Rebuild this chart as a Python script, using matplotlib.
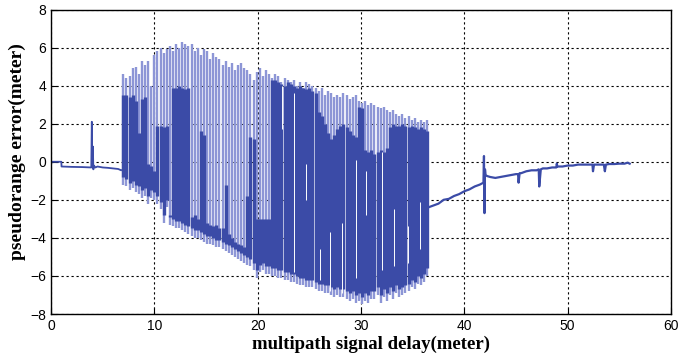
import numpy as np
import matplotlib
matplotlib.use('Agg')
import matplotlib.pyplot as plt

# flat part before the multipath zone (x, y)
pre = [(0.0, -0.15), (0.05, 0.0), (1.0, 0.0), (1.02, -0.25), (2.0, -0.27), (3.0, -0.28),
       (3.9, -0.3), (3.95, 2.1), (4.0, -0.2), (4.05, 0.8), (4.1, -0.4), (4.15, -0.2),
       (4.3, -0.3), (4.5, -0.25), (5.0, -0.3), (5.5, -0.32), (6.0, -0.35), (6.5, -0.38),
       (6.8, -0.45), (7.0, -0.4)]

# oscillating zone: stroke position, top, bottom, top of the dense (dark) part
stroke_x = [7.0, 7.3, 7.6, 7.9, 8.2, 8.5, 8.8, 9.1, 9.4, 9.7,
            10.0, 10.3, 10.6, 10.9, 11.2, 11.5, 11.8, 12.1, 12.4, 12.7,
            13.0, 13.3, 13.6, 13.9, 14.2, 14.5, 14.8, 15.1, 15.4, 15.7,
            16.0, 16.3, 16.6, 16.9, 17.2, 17.5, 17.8, 18.1, 18.4, 18.7,
            19.0, 19.3, 19.6, 19.9, 20.2, 20.5, 20.8, 21.1, 21.4, 21.7,
            22.0, 22.3, 22.6, 22.9, 23.2, 23.5, 23.8, 24.1, 24.4, 24.7,
            25.0, 25.3, 25.6, 25.9, 26.2, 26.5, 26.8, 27.1, 27.4, 27.7,
            28.0, 28.3, 28.6, 28.9, 29.2, 29.5, 29.8, 30.1, 30.4, 30.7,
            31.0, 31.3, 31.6, 31.9, 32.2, 32.5, 32.8, 33.1, 33.4, 33.7,
            34.0, 34.3, 34.6, 34.9, 35.2, 35.5, 35.8, 36.1, 36.4]
stroke_top = [4.6, 4.4, 4.5, 4.9, 5.0, 4.6, 5.3, 5.1, 5.3, 4.0,
              5.6, 5.8, 6.0, 5.7, 5.9, 6.1, 5.8, 6.2, 6.0, 6.3,
              6.2, 6.1, 6.2, 5.8, 6.0, 5.6, 5.9, 5.8, 5.4, 5.7,
              5.5, 5.4, 5.1, 5.3, 5.0, 5.2, 4.8, 5.1, 5.2, 4.9,
              4.8, 4.6, 4.3, 4.7, 4.9, 4.5, 4.8, 4.6, 4.4, 4.6,
              4.5, 4.2, 4.4, 4.3, 4.2, 4.3, 4.0, 4.2, 3.9, 4.2,
              4.1, 4.0, 3.9, 3.7, 3.9, 3.5, 3.7, 3.6, 3.4, 3.5,
              3.4, 3.6, 3.5, 3.3, 3.4, 3.5, 3.2, 3.1, 3.2, 3.0,
              3.1, 3.0, 2.9, 2.8, 2.9, 2.7, 2.6, 2.7, 2.5, 2.4,
              2.5, 2.3, 2.4, 2.2, 2.3, 2.1, 2.2, 2.1, 2.2]
stroke_bottom = [-1.2, -1.3, -1.5, -1.4, -1.6, -1.7, -1.9, -1.8, -2.2, -1.9,
                 -2.0, -2.2, -2.5, -3.2, -2.4, -3.3, -3.4, -3.5, -3.5, -3.6,
                 -3.7, -3.8, -3.9, -4.0, -4.0, -4.1, -4.2, -4.3, -4.3, -4.4,
                 -4.5, -4.5, -4.6, -4.7, -4.8, -4.9, -5.0, -5.1, -5.2, -5.3,
                 -5.4, -5.5, -5.7, -6.1, -5.8, -5.7, -5.9, -5.9, -6.0, -6.0,
                 -6.1, -6.1, -6.2, -6.2, -6.3, -6.3, -6.4, -6.5, -6.5, -6.6,
                 -6.6, -6.6, -6.7, -6.8, -6.8, -6.9, -6.9, -7.0, -7.1, -7.0,
                 -7.1, -7.1, -7.2, -7.3, -7.2, -7.4, -7.3, -7.5, -7.3, -7.4,
                 -7.2, -7.2, -7.0, -7.4, -7.1, -7.3, -7.0, -7.2, -6.9, -7.1,
                 -7.0, -6.9, -6.8, -6.6, -6.7, -6.4, -6.5, -6.3, -6.0]
dark_top = [3.5, 3.5, 3.4, 3.5, 3.2, 1.5, 3.3, 3.4, -0.1, -0.2,
            -0.5, 1.9, 1.9, 1.8, 1.9, -2.8, 3.9, 3.9, 4.0, 3.9,
            3.8, 3.9, -2.9, -2.8, -3.0, 1.6, 1.4, -3.2, -3.3, -3.4,
            -3.3, -3.5, -3.5, -1.2, -3.8, -4.0, -4.2, -4.3, -4.4, -4.5,
            -1.8, 1.3, 1.2, -3.0, -3.0, -3.0, -3.0, -3.0, 4.3, 4.3,
            4.2, 4.1, 4.0, 4.2, 4.1, 4.0, 3.9, 4.0, 3.9, 3.8,
            3.9, 3.7, 3.6, 2.6, 2.4, 2.0, 1.5, 1.2, 1.4, 1.7,
            1.9, 2.0, 1.8, 1.6, 1.4, 1.3, 2.9, 2.8, 0.6, 0.5,
            0.6, 0.4, 0.5, 0.6, 0.5, 0.7, 1.8, 2.0, 1.9, 1.9,
            2.0, 1.9, 1.8, 1.9, 1.8, 1.7, 1.8, 1.7, 1.6]

# thin white gaps inside the dense part (x, y from, y to)
gap_x = [22.4, 23.5, 24.7, 26.0, 27.0, 28.2, 29.5, 30.5, 32.0, 33.2, 34.5, 35.7]
gap_lo = [1.7, -5.8, -2.0, -6.2, -6.8, -6.9, -6.1, -2.8, -5.7, -5.5, -5.3, -4.6]
gap_hi = [4.0, 3.6, -0.1, -4.6, -3.7, -3.2, 0.1, -0.5, 0.5, -2.5, -3.4, -2.1]

# recovery part after the multipath zone (x, y)
post = [(36.5, -2.4), (37.0, -2.3), (37.5, -2.2), (38.0, -2.0), (38.5, -1.95), (39.0, -1.8),
        (39.5, -1.7), (40.0, -1.55), (40.5, -1.45), (41.0, -1.3), (41.5, -1.2), (41.85, -1.1),
        (41.9, 0.3), (41.95, -2.7), (42.0, -0.4), (42.05, -0.7), (42.2, -0.75), (42.5, -0.8),
        (43.0, -0.85), (43.5, -0.8), (44.0, -0.75), (44.5, -0.7), (45.0, -0.65), (45.2, -0.65),
        (45.25, -1.1), (45.35, -0.6), (45.5, -0.6), (46.0, -0.5), (46.5, -0.45), (47.0, -0.45),
        (47.2, -0.4), (47.25, -1.3), (47.4, -0.4), (47.6, -0.35), (48.0, -0.35), (48.5, -0.3),
        (48.9, -0.3), (48.95, -0.1), (49.0, -0.25), (49.5, -0.25), (50.0, -0.2), (50.5, -0.2),
        (51.0, -0.15), (51.5, -0.15), (52.0, -0.15), (52.4, -0.15), (52.45, -0.5), (52.55, -0.15),
        (53.0, -0.15), (53.5, -0.15), (53.6, -0.5), (53.7, -0.15), (54.0, -0.12), (54.5, -0.12),
        (55.0, -0.1), (55.5, -0.1), (55.8, -0.05), (56.0, -0.1)]

light = '#8d96d6'
dark = '#3b4ba7'

fig = plt.figure(figsize=(6.78, 3.56), dpi=100)
ax = fig.add_axes([51 / 678, 42 / 356, 620 / 678, 304.5 / 356])

px, py = zip(*pre)
ax.plot(px, py, color=dark, lw=1.3)

sx = np.array(stroke_x)
sb = np.array(stroke_bottom)
ax.vlines(sx, sb, stroke_top, color=light, lw=1.7)
ax.vlines(sx, sb + 0.4, dark_top, color=dark, lw=2.4)
ax.vlines(gap_x, gap_lo, gap_hi, color='white', lw=0.7)

qx, qy = zip(*post)
ax.plot(qx, qy, color=dark, lw=1.6)

ax.set_xlim(0, 60)
ax.set_ylim(-8, 8)
ax.set_xticks(range(0, 61, 10))
ax.set_yticks(range(-8, 9, 2))
ax.grid(True, color='black', linestyle=(0, (2, 2.5)), lw=0.8)
ax.tick_params(direction='in', length=4, labelsize=10, colors='black')
for lab in ax.get_xticklabels() + ax.get_yticklabels():
    lab.set_family('Liberation Sans')
for sp in ax.spines.values():
    sp.set_linewidth(1.0)

ax.set_xlabel('multipath signal delay(meter)', family='Liberation Serif',
              fontweight='bold', fontsize=13.5, labelpad=2)
ax.set_ylabel('pseudorange error(meter)', family='Liberation Serif',
              fontweight='bold', fontsize=14, labelpad=3)
ax.xaxis.label.set_x(0.516)
ax.yaxis.label.set_y(0.535)

fig.savefig('out.png', dpi=100)
